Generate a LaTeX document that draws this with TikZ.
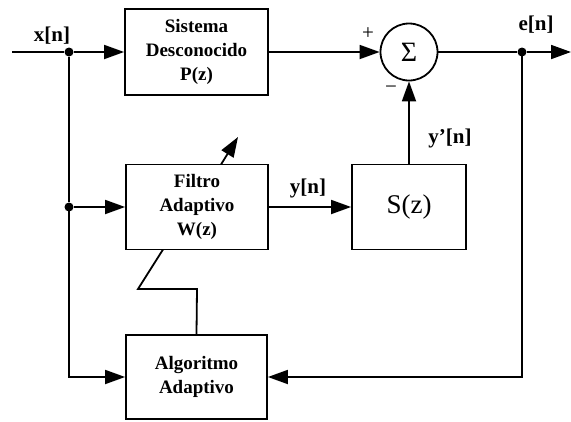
\documentclass[tikz,border=0pt]{standalone}
\usepackage{fontspec}
\setmainfont{Liberation Serif}
\usetikzlibrary{arrows.meta}
\begin{document}
\begin{tikzpicture}[x=1pt,y=-1pt,
  line width=1.8pt,
  blk/.style={draw, rectangle, inner sep=0pt, align=center,
    font=\fontsize{19}{24}\selectfont\bfseries},
  lbl/.style={font=\fontsize{21}{24}\selectfont\bfseries, inner sep=0pt},
  sgn/.style={font=\fontsize{21}{21}\selectfont, inner sep=0pt},
  arr/.style={-{Triangle[length=20pt,width=14pt]}},
  dot/.style={circle, fill=black, inner sep=0pt, minimum size=9pt}]
\useasboundingbox (0,0) rectangle (571,421);

\node[blk, minimum width=143pt, minimum height=86pt] (P) at (196.5,52) {Sistema\\Desconocido\\P(z)};
\node[draw, circle, minimum size=57pt, inner sep=0pt, font=\fontsize{28}{28}\selectfont] (sum) at (409,52) {Σ};
\node[blk, minimum width=142pt, minimum height=85pt] (W) at (197,207) {Filtro\\Adaptivo\\W(z)};
\node[draw, rectangle, minimum width=114pt, minimum height=85pt, inner sep=0pt, font=\fontsize{27}{27}\selectfont] (S) at (409,207) {S(z)};
\node[blk, minimum width=141pt, minimum height=84pt] (A) at (196.5,377) {Algoritmo\\Adaptivo};

\coordinate (in) at (12,52);
\node[dot] (j1) at (69,52) {};
\node[dot] (j2) at (69,207) {};
\node[dot] (je) at (522,52) {};
\coordinate (out) at (571,52);
\coordinate (al) at (69,377);
\coordinate (ar) at (522,377);
\coordinate (z1) at (197,289);
\coordinate (z2) at (138,289);
\coordinate (z3) at (163,249.5);
\coordinate (t1) at (221,164.5);
\coordinate (t2) at (238,137);

\draw (in) -- (j1);
\draw[arr] (j1) -- (P.west);
\draw[arr] (P.east) -- (sum.west);
\draw (sum.east) -- (je);
\draw[arr] (je) -- (out);
\draw (j1) -- (j2);
\draw[arr] (j2) -- (W.west);
\draw[arr] (j2.center) -- (al) -- (A.west);
\draw[arr] (W.east) -- (S.west);
\draw[arr] (S.north) -- (sum.south);
\draw[arr] (je.center) -- (ar) -- (A.east);
\draw (A.north) -- (z1) -- (z2) -- (z3);
\draw[arr] (t1) -- (t2);

\node[lbl] (lx) at (52,36) {x[n]};
\node[lbl] (le) at (536,25) {e[n]};
\node[lbl] (lyp) at (450,138) {y’[n]};
\node[lbl] (ly) at (308,188) {y[n]};
\node[sgn] (plus) at (368,34) {+};
\node[sgn] (minus) at (391,90) {−};
\end{tikzpicture}
\end{document}
